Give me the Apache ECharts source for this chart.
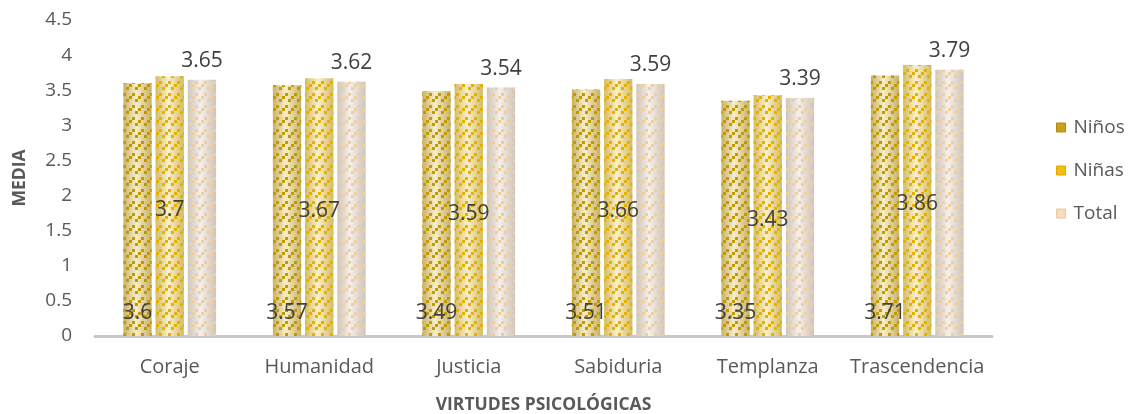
<!DOCTYPE html>
<html>
<head>
<meta charset="utf-8">
<script src="https://cdn.jsdelivr.net/npm/echarts@6/dist/echarts.min.js"></script>
<style>
  html, body { margin: 0; padding: 0; background: #ffffff; }
  #chart { width: 1141px; height: 414px; }
</style>
</head>
<body>
<div id="chart"></div>
<script>
// Mean scores per psychological virtue, by group
const categories = ['Coraje', 'Humanidad', 'Justicia', 'Sabiduria', 'Templanza', 'Trascendencia'];
const groups = ['Niños', 'Niñas', 'Total'];
const ninos = [3.6, 3.57, 3.49, 3.51, 3.35, 3.71];
const ninas = [3.7, 3.67, 3.59, 3.66, 3.43, 3.86];
const total = [3.65, 3.62, 3.54, 3.59, 3.39, 3.79];

const FONT = '"Open Sans", "Noto Sans", sans-serif';
const TEXT = '#595959';

// Cylinder-like horizontal shading for each bar
function shade(edge, mid) {
  return {
    type: 'linear', x: 0, y: 0, x2: 1, y2: 0,
    colorStops: [
      { offset: 0, color: edge },
      { offset: 0.45, color: mid },
      { offset: 1, color: edge }
    ]
  };
}

// Small square dots stepping up to the right, in short diagonal dashes
function texture(color) {
  return {
    symbol: 'rect',
    symbolSize: 1,
    color: color,
    dashArrayY: [3, 0],
    dashArrayX: [
      [0, 6, 3, 0],
      [0, 3, 3, 3],
      [3, 6],
      [0, 9]
    ]
  };
}

function barSeries(name, data, edge, mid, dots, labelCfg) {
  return {
    name: name,
    type: 'bar',
    data: data,
    barGap: '14%',
    barCategoryGap: '38%',
    itemStyle: { color: shade(edge, mid), decal: texture(dots) },
    label: Object.assign({
      show: true,
      color: '#404040',
      fontFamily: FONT,
      fontSize: 21
    }, labelCfg)
  };
}

const legendSwatch = ['#c9a11c', '#f4bd10', '#f9dcb8'];
const legendBorder = ['#b08c10', '#e0a800', '#ecc89c'];

const chart = echarts.init(document.getElementById('chart'));
chart.setOption({
  animation: false,
  backgroundColor: '#ffffff',
  grid: { left: 95, right: 149, top: 20, bottom: 78, outerBoundsMode: 'none' },
  legend: {
    orient: 'vertical',
    left: 1056,
    top: 118,
    padding: 0,
    itemWidth: 9,
    itemHeight: 9,
    itemGap: 24,
    textStyle: { color: TEXT, fontFamily: FONT, fontSize: 19, padding: [0, 0, 0, 3] },
    data: groups.map((g, i) => ({
      name: g,
      icon: 'rect',
      itemStyle: { color: legendSwatch[i], borderColor: legendBorder[i], borderWidth: 1, decal: 'none' }
    }))
  },
  xAxis: {
    type: 'category',
    data: categories,
    name: 'VIRTUDES PSICOLÓGICAS',
    nameLocation: 'middle',
    nameGap: 60,
    nameTextStyle: { color: TEXT, fontFamily: FONT, fontSize: 17.5, fontWeight: 'bold' },
    axisLine: { lineStyle: { color: '#c8c8c8', width: 3 } },
    axisTick: { show: false },
    axisLabel: { color: TEXT, fontFamily: FONT, fontSize: 20, margin: 21, interval: 0 }
  },
  yAxis: {
    type: 'value',
    min: 0,
    max: 4.5,
    interval: 0.5,
    name: 'MEDIA',
    nameLocation: 'middle',
    nameGap: 66,
    nameTextStyle: { color: TEXT, fontFamily: FONT, fontSize: 17.5, fontWeight: 'bold' },
    axisLine: { show: false },
    axisTick: { show: false },
    splitLine: { show: false },
    axisLabel: { color: TEXT, fontFamily: FONT, fontSize: 19, margin: 23 }
  },
  series: [
    barSeries(groups[0], ninos, '#c9b165', '#f7eec8', '#c29a00',
      { position: 'insideBottom', distance: 12 }),
    barSeries(groups[1], ninas, '#d4bc60', '#f9f0cb', '#e6b000',
      { position: 'inside', offset: [0, 4] }),
    barSeries(groups[2], total, '#cdc4ba', '#f6f0ea', '#efcfa0',
      { position: 'top', distance: 8 })
  ]
});
</script>
</body>
</html>
